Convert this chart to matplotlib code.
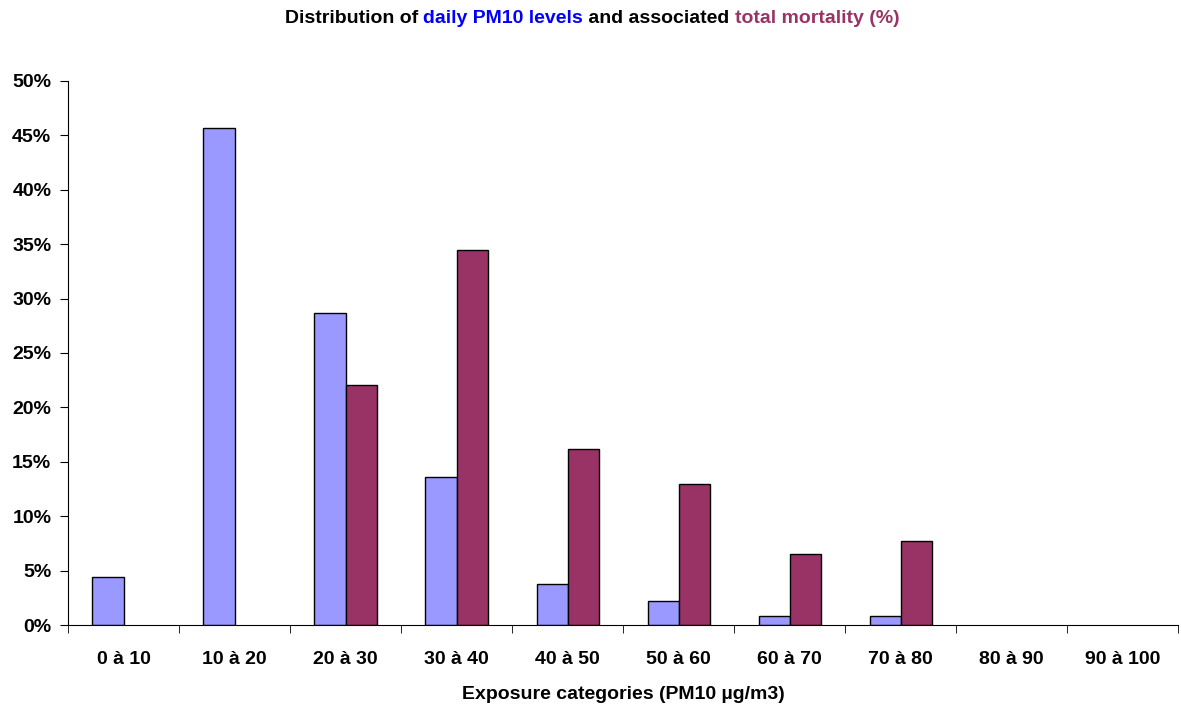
import numpy as np
import matplotlib
matplotlib.use("Agg")
from matplotlib import pyplot as plt

categories = ["0 à 10", "10 à 20", "20 à 30", "30 à 40", "40 à 50",
              "50 à 60", "60 à 70", "70 à 80", "80 à 90", "90 à 100"]
pm10_levels = [4.4, 45.7, 28.7, 13.6, 3.8, 2.2, 0.8, 0.8, 0.0, 0.0]
mortality = [0.0, 0.0, 22.1, 34.5, 16.2, 13.0, 6.5, 7.7, 0.0, 0.0]

plt.rcParams['font.family'] = ['Liberation Sans', 'DejaVu Sans']
plt.rcParams['font.weight'] = 'bold'
fs = 14

fig = plt.figure(figsize=(11.81, 7.04), dpi=100)
ax = fig.add_axes([0.0576, 0.1122, 0.94, 0.7728])

x = np.arange(len(categories))
w = 0.28
b1 = ax.bar(x - w / 2, pm10_levels, w, color="#9999FF", edgecolor="black", linewidth=1)
b2 = ax.bar(x + w / 2, mortality, w, color="#993366", edgecolor="black", linewidth=1)
# empty classes: no outline sitting on the axis
for bars in (b1, b2):
    for p in bars:
        if p.get_height() == 0:
            p.set_linewidth(0)

ax.set_xlim(-0.5, len(categories) - 0.5)
ax.set_ylim(0, 50)
ax.set_yticks(np.arange(0, 51, 5))
ax.set_yticklabels([f"{v}%" for v in range(0, 51, 5)])
ax.set_xticks(x)
ax.set_xticklabels(categories)
ax.set_xticks(np.arange(-0.5, len(categories)), minor=True)
ax.tick_params(axis="x", which="major", length=0, pad=19)
ax.tick_params(axis="x", which="minor", length=6, direction="out")
ax.tick_params(axis="y", length=6, direction="out", pad=6)
for lbl in ax.get_xticklabels() + ax.get_yticklabels():
    lbl.set_fontsize(fs)
    lbl.set_fontweight("bold")
ax.spines["top"].set_visible(False)
ax.spines["right"].set_visible(False)
ax.set_xlabel("Exposure categories (PM10 µg/m3)", fontsize=fs,
              fontweight="bold", labelpad=13)

# title made of coloured pieces laid end to end
pieces = [("Distribution of ", "black"), ("daily PM10 levels", "#0000FF"),
          (" and associated ", "black"), ("total mortality (%)", "#993366")]
fig.canvas.draw()
r = fig.canvas.get_renderer()
texts = []
total = 0
for s, c in pieces:
    t = fig.text(0, 0.974, s, color=c, fontsize=fs, fontweight="bold",
                 va="center", ha="left")
    bb = t.get_window_extent(renderer=r)
    texts.append((t, bb.width))
    total += bb.width
cx = 592
xpos = cx - total / 2
for t, wpx in texts:
    t.set_x(xpos / fig.bbox.width)
    xpos += wpx

fig.savefig("out.png", dpi=100)
